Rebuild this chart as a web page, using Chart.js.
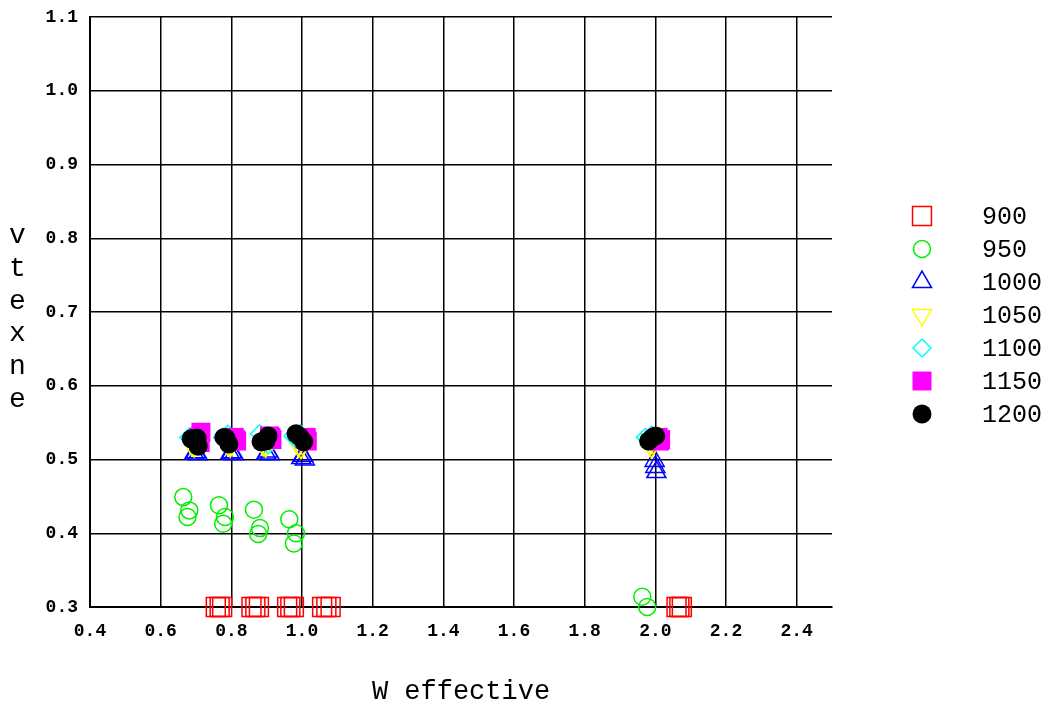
<!DOCTYPE html>
<html>
<head>
<meta charset="utf-8">
<script src="https://cdn.jsdelivr.net/npm/chart.js@4/dist/chart.umd.min.js"></script>
<style>
  html, body { margin: 0; padding: 0; background: #fff; }
  #wrap { width: 1054px; height: 706px; }
</style>
</head>
<body>
<div id="wrap"><canvas id="vtexChart"></canvas></div>
<script>
// series labels (temperatures) and marker looks
var seriesLabels = ['900', '950', '1000', '1050', '1100', '1150', '1200'];
var seriesColors = ['#ff0000', '#00ee00', '#0000ff', '#ffff00', '#00ffff', '#ff00ff', '#000000'];

// axis ticks
var xTicks = [0.4, 0.6, 0.8, 1.0, 1.2, 1.4, 1.6, 1.8, 2.0, 2.2, 2.4];
var yTicks = [0.3, 0.4, 0.5, 0.6, 0.7, 0.8, 0.9, 1.0, 1.1];

// W effective (x) and vtexne (y)
var x900 = [0.756, 0.767, 0.774, 0.857, 0.868, 0.878, 0.958, 0.967, 0.977, 1.057, 1.069, 1.081, 2.060, 2.068, 2.075];
var y900 = [0.300, 0.300, 0.300, 0.300, 0.300, 0.300, 0.300, 0.300, 0.300, 0.300, 0.300, 0.300, 0.300, 0.300, 0.300];

var x950 = [0.664, 0.681, 0.676, 0.765, 0.782, 0.777, 0.864, 0.881, 0.876, 0.964, 0.983, 0.977, 1.963, 1.977];
var y950 = [0.449, 0.431, 0.422, 0.438, 0.422, 0.413, 0.432, 0.407, 0.399, 0.419, 0.400, 0.386, 0.314, 0.300];

var x1000 = [0.695, 0.700, 0.705, 0.797, 0.802, 0.807, 0.899, 0.904, 0.909, 0.998, 1.003, 1.008, 1.998, 2.000, 2.003];
var y1000 = [0.508, 0.510, 0.507, 0.508, 0.510, 0.507, 0.508, 0.511, 0.507, 0.502, 0.505, 0.500, 0.498, 0.490, 0.483];

var x1050 = [0.688, 0.695, 0.700, 0.790, 0.797, 0.802, 0.890, 0.897, 0.903, 0.990, 0.997, 1.003, 1.985, 1.990, 1.995];
var y1050 = [0.520, 0.518, 0.522, 0.520, 0.518, 0.521, 0.520, 0.518, 0.522, 0.518, 0.516, 0.520, 0.520, 0.517, 0.522];

var x1100 = [0.680, 0.690, 0.695, 0.775, 0.785, 0.790, 0.880, 0.890, 0.905, 0.975, 0.985, 0.995, 1.972, 1.980, 1.990];
var y1100 = [0.530, 0.525, 0.535, 0.530, 0.526, 0.534, 0.535, 0.528, 0.520, 0.532, 0.527, 0.535, 0.530, 0.525, 0.533];

var x1150 = [0.714, 0.712, 0.708, 0.812, 0.815, 0.808, 0.912, 0.915, 0.908, 1.012, 1.015, 1.008, 2.012, 2.015, 2.008];
var y1150 = [0.537, 0.523, 0.530, 0.527, 0.525, 0.530, 0.530, 0.527, 0.532, 0.530, 0.525, 0.528, 0.525, 0.527, 0.530];

var x1200 = [0.686, 0.706, 0.703, 0.779, 0.793, 0.785, 0.884, 0.904, 0.898, 0.983, 1.005, 0.994, 1.981, 2.001, 1.990];
var y1200 = [0.528, 0.518, 0.529, 0.530, 0.521, 0.529, 0.524, 0.532, 0.525, 0.535, 0.524, 0.531, 0.525, 0.532, 0.529];

var xSeries = [x900, x950, x1000, x1050, x1100, x1150, x1200];
var ySeries = [y900, y950, y1000, y1050, y1100, y1150, y1200];

var xTitle = 'W effective';
var yTitle = 'vtexne';

var styles = [
    { pointStyle: 'rect', radius: 13.4, rotation: 0, filled: false },
    { pointStyle: 'circle', radius: 8.5, rotation: 0, filled: false },
    { pointStyle: 'triangle', radius: 11, rotation: 0, filled: false },
    { pointStyle: 'triangle', radius: 11, rotation: 180, filled: false },
    { pointStyle: 'rectRot', radius: 9, rotation: 0, filled: false },
    { pointStyle: 'rect', radius: 13.4, rotation: 0, filled: true },
    { pointStyle: 'circle', radius: 9.5, rotation: 0, filled: true }
];

function toPoints(xs, ys) {
    var pts = [];
    for (var i = 0; i < xs.length; i++) pts.push({ x: xs[i], y: ys[i] });
    return pts;
}

var datasets = seriesLabels.map(function (label, i) {
    var s = styles[i];
    return {
        label: label,
        data: toPoints(xSeries[i], ySeries[i]),
        pointStyle: s.pointStyle,
        pointRadius: s.radius,
        pointHoverRadius: s.radius,
        rotation: s.rotation,
        borderColor: seriesColors[i],
        backgroundColor: s.filled ? seriesColors[i] : 'rgba(0,0,0,0)',
        borderWidth: s.filled ? 0 : 1.5,
        order: seriesLabels.length - i, // later series drawn on top
        clip: false
    };
});

// stacked y title and the marker legend on the right
var sidePlugin = {
    id: 'sideText',
    afterDraw: function (chart) {
        var ctx = chart.ctx;
        ctx.save();
        ctx.fillStyle = '#000';
        ctx.font = '28px "Liberation Mono", monospace';
        ctx.textAlign = 'center';
        ctx.textBaseline = 'alphabetic';
        for (var i = 0; i < yTitle.length; i++) {
            ctx.fillText(yTitle[i], 17.5, 243 + i * 32.8);
        }

        var mx = 922, tx = 982, y0 = 216, step = 33;
        ctx.font = '25px "Liberation Mono", monospace';
        ctx.textAlign = 'left';
        ctx.textBaseline = 'middle';
        chart.data.datasets.forEach(function (ds, i) {
            var s = styles[i];
            var y = y0 + i * step;
            ctx.strokeStyle = seriesColors[i];
            ctx.fillStyle = s.filled ? seriesColors[i] : 'rgba(0,0,0,0)';
            ctx.lineWidth = 1.5;
            Chart.helpers.drawPoint(ctx, {
                pointStyle: s.pointStyle,
                radius: s.radius,
                rotation: s.rotation,
                borderWidth: s.filled ? 0 : 1.5
            }, mx, y);
            ctx.fillStyle = '#000';
            ctx.fillText(ds.label, tx, y + 1);
        });
        ctx.restore();
    }
};

function useTicks(list) {
    return function (scale) {
        scale.ticks = list.map(function (v) { return { value: v }; });
    };
}

var tickFont = { family: '"Liberation Mono", monospace', size: 18, weight: 'bold' };

var ctx = document.getElementById('vtexChart').getContext('2d');
var vtexChart = new Chart(ctx, {
    type: 'scatter',
    data: { datasets: datasets },
    options: {
        responsive: true,
        maintainAspectRatio: false,
        animation: false,
        layout: { padding: { top: 17, right: 222, left: 0, bottom: 0 } },
        scales: {
            x: {
                type: 'linear',
                min: 0.4,
                max: 2.5,
                border: { display: true, color: '#000', width: 2 },
                grid: { drawTicks: false, lineWidth: 1.5, color: '#000' },
                afterBuildTicks: useTicks(xTicks),
                ticks: {
                    padding: 14,
                    color: '#000',
                    font: tickFont,
                    maxRotation: 0,
                    autoSkip: false,
                    callback: function (v) { return v.toFixed(1); }
                },
                title: {
                    display: true,
                    text: xTitle,
                    color: '#000',
                    font: { family: '"Liberation Mono", monospace', size: 27, lineHeight: 1 },
                    padding: { top: 0, bottom: 1 }
                },
                afterFit: function (scale) {
                    scale.height = 99;
                    scale.paddingLeft = 0;
                    scale.paddingRight = 0;
                }
            },
            y: {
                type: 'linear',
                min: 0.3,
                max: 1.1,
                border: { display: true, color: '#000', width: 2 },
                grid: { drawTicks: false, lineWidth: 1.5, color: '#000' },
                afterBuildTicks: useTicks(yTicks),
                ticks: {
                    padding: 12,
                    color: '#000',
                    font: tickFont,
                    autoSkip: false,
                    callback: function (v) { return v.toFixed(1); }
                },
                afterFit: function (scale) {
                    scale.width = 90;
                    scale.paddingTop = 0;
                    scale.paddingBottom = 0;
                }
            }
        },
        plugins: {
            legend: { display: false },
            tooltip: { enabled: false }
        }
    },
    plugins: [sidePlugin]
});
</script>
</body>
</html>
